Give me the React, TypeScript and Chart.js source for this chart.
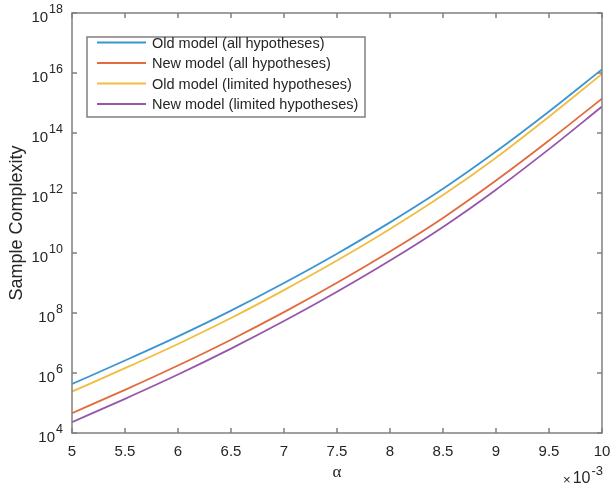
import React, { useEffect, useRef } from 'react';
import { Chart, registerables } from 'chart.js';

Chart.register(...registerables);

// alpha values in units of 10^-3
const ALPHA = [5, 5.5, 6, 6.5, 7, 7.5, 8, 8.5, 9, 9.5, 10];
const OLD_ALL = [4.3e5, 2.6e6, 1.66e7, 1.2e8, 1.0e9, 9.5e9, 1.05e11, 1.38e12, 2.4e13, 5.2e14, 1.32e16];
const NEW_ALL = [4.6e4, 2.75e5, 1.78e6, 1.29e7, 1.07e8, 1.02e9, 1.12e10, 1.48e11, 2.6e12, 5.6e13, 1.4e15];
const OLD_LIMITED = [2.4e5, 1.45e6, 9.3e6, 6.8e7, 5.8e8, 5.6e9, 6.3e10, 8.5e11, 1.5e13, 3.5e14, 9.3e15];
const NEW_LIMITED = [2.3e4, 1.38e5, 8.9e5, 6.5e6, 5.4e7, 5.1e8, 5.6e9, 7.4e10, 1.29e12, 2.9e13, 7.6e14];

const SERIES_LABELS = [
  'Old model (all hypotheses)',
  'New model (all hypotheses)',
  'Old model (limited hypotheses)',
  'New model (limited hypotheses)',
];
const SERIES_COLORS = ['#3a95d3', '#e36a3c', '#f0bd40', '#9856ab'];

const X_TICKS = [5, 5.5, 6, 6.5, 7, 7.5, 8, 8.5, 9, 9.5, 10];
const X_TICK_LABELS = ['5', '5.5', '6', '6.5', '7', '7.5', '8', '8.5', '9', '9.5', '10'];
const Y_TICK_EXPONENTS = [4, 6, 8, 10, 12, 14, 16, 18];
const X_TITLE = 'α';
const Y_TITLE = 'Sample Complexity';
const X_MULTIPLIER_SIGN = '×';
const X_MULTIPLIER_BASE = '10';
const X_MULTIPLIER_EXP = '-3';

const TEXT = '#262626';
const AXIS = '#808080';
const SANS = '"Liberation Sans", Arial, Helvetica, sans-serif';

const matlabAxes = {
  id: 'matlabAxes',
  afterDraw(chart: any) {
    const ctx: CanvasRenderingContext2D = chart.ctx;
    const { left, right, top, bottom } = chart.chartArea;
    const xs = chart.scales.x;
    const ys = chart.scales.y;
    ctx.save();

    // box
    ctx.strokeStyle = AXIS;
    ctx.lineWidth = 1.5;
    ctx.strokeRect(left, top, right - left, bottom - top);

    // x ticks
    ctx.fillStyle = TEXT;
    ctx.font = `15px ${SANS}`;
    ctx.textAlign = 'center';
    ctx.textBaseline = 'middle';
    X_TICKS.forEach((v, i) => {
      const px = xs.getPixelForValue(v);
      ctx.beginPath();
      ctx.moveTo(px, bottom);
      ctx.lineTo(px, bottom - 5);
      ctx.moveTo(px, top);
      ctx.lineTo(px, top + 5);
      ctx.stroke();
      ctx.fillText(X_TICK_LABELS[i], px, bottom + 19);
    });

    // y ticks
    Y_TICK_EXPONENTS.forEach((e) => {
      const py = ys.getPixelForValue(Math.pow(10, e));
      ctx.beginPath();
      ctx.moveTo(left, py);
      ctx.lineTo(left + 5, py);
      ctx.moveTo(right, py);
      ctx.lineTo(right - 5, py);
      ctx.stroke();
      const expStr = String(e);
      ctx.font = `12.5px ${SANS}`;
      const we = ctx.measureText(expStr).width;
      const rightEdge = left - 9;
      ctx.textAlign = 'right';
      ctx.fillText(expStr, rightEdge, py - 3);
      ctx.font = `15px ${SANS}`;
      ctx.fillText('10', rightEdge - we - 1, py + 5);
    });

    // x title
    ctx.font = `17px "Liberation Serif", "DejaVu Serif", serif`;
    ctx.textAlign = 'center';
    ctx.fillText(X_TITLE, (left + right) / 2, 473);

    // multiplier
    ctx.textAlign = 'right';
    ctx.font = `13px ${SANS}`;
    const wExp = ctx.measureText(X_MULTIPLIER_EXP).width;
    const expRight = right + 1;
    ctx.fillText(X_MULTIPLIER_EXP, expRight, 471);
    ctx.font = `16px ${SANS}`;
    const baseRight = expRight - wExp - 1;
    const wBase = ctx.measureText(X_MULTIPLIER_BASE).width;
    ctx.fillText(X_MULTIPLIER_BASE, baseRight, 479);
    ctx.font = `13px ${SANS}`;
    ctx.fillText(X_MULTIPLIER_SIGN, baseRight - wBase - 2, 480);

    // y title
    ctx.save();
    ctx.translate(17, (top + bottom) / 2);
    ctx.rotate(-Math.PI / 2);
    ctx.textAlign = 'center';
    ctx.font = `18px ${SANS}`;
    ctx.fillText(Y_TITLE, 0, 0);
    ctx.restore();

    // legend
    const lx = 87, ly = 37, lw = 278, lh = 80;
    ctx.fillStyle = '#ffffff';
    ctx.fillRect(lx, ly, lw, lh);
    ctx.strokeStyle = AXIS;
    ctx.lineWidth = 1.5;
    ctx.strokeRect(lx, ly, lw, lh);
    ctx.font = `14.5px ${SANS}`;
    ctx.textAlign = 'left';
    ctx.textBaseline = 'middle';
    chart.data.datasets.forEach((ds: any, i: number) => {
      const y = 42.5 + i * 20.5;
      ctx.strokeStyle = ds.borderColor;
      ctx.lineWidth = 1.8;
      ctx.beginPath();
      ctx.moveTo(97, y);
      ctx.lineTo(146, y);
      ctx.stroke();
      ctx.fillStyle = TEXT;
      ctx.fillText(ds.label, 152, y + 1);
    });

    ctx.restore();
  },
};

export default function App() {
  const ref = useRef<HTMLCanvasElement>(null);
  useEffect(() => {
    if (!ref.current) return;
    const series = [OLD_ALL, NEW_ALL, OLD_LIMITED, NEW_LIMITED];
    const chart = new Chart(ref.current, {
      type: 'line',
      data: {
        datasets: series.map((vals, i) => ({
          label: SERIES_LABELS[i],
          data: ALPHA.map((a, j) => ({ x: a, y: vals[j] })),
          borderColor: SERIES_COLORS[i],
          backgroundColor: SERIES_COLORS[i],
          borderWidth: 1.8,
          pointRadius: 0,
          cubicInterpolationMode: 'monotone' as const,
          fill: false,
        })),
      },
      options: {
        responsive: false,
        animation: false,
        events: [],
        layout: { padding: { left: 72, top: 13, right: 8, bottom: 57 } },
        plugins: { legend: { display: false }, tooltip: { enabled: false } },
        scales: {
          x: { type: 'linear', min: 5, max: 10, display: false },
          y: { type: 'logarithmic', min: 1e4, max: 1e18, display: false },
        },
      },
      plugins: [matlabAxes],
    });
    return () => chart.destroy();
  }, []);
  return (
    <div style={{ position: 'absolute', left: 0, top: 0, width: 610, height: 490, background: '#fff' }}>
      <canvas ref={ref} width={610} height={490} style={{ display: 'block' }} />
    </div>
  );
}
